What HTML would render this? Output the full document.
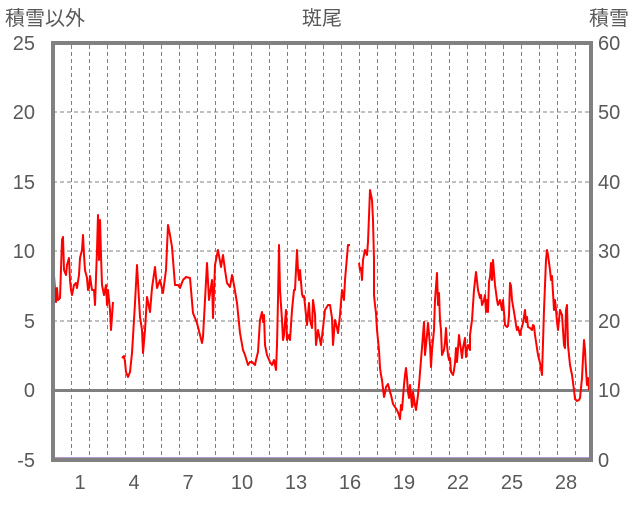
<!DOCTYPE html>
<html><head><meta charset="utf-8"><style>
body{margin:0;background:#fff;}
svg text{font-family:"Liberation Sans","Noto Sans CJK JP",sans-serif;fill:#595959;font-size:20px;}
</style></head><body>
<svg width="636" height="501" viewBox="0 0 636 501">
<g stroke="#808080" stroke-width="1" stroke-dasharray="4,3">
<line x1="53" y1="112" x2="591" y2="112"/><line x1="53" y1="182" x2="591" y2="182"/>
<line x1="53" y1="251" x2="591" y2="251"/><line x1="53" y1="321" x2="591" y2="321"/>
</g>
<g id="v" stroke="#808080" stroke-width="1" stroke-dasharray="4,3"></g>
<line x1="53" y1="390.5" x2="591" y2="390.5" stroke="#808080" stroke-width="3"/>
<polyline fill="none" stroke="#ff0000" stroke-width="2" stroke-linejoin="round" points="53,262 55,290 56,302 57,288 58,300 60,298 62,240 63,237 64,270 66,275 67,265 69,258 70,280 71,290 72,295 74,285 76,283 77,288 79,275 80,258 82,250 83,235 84,255 85,270 87,278 88,290 89,288 90,276 92,290 94,290 95,305 97,250 98,215 99,260 100,220 101,255 102,285 104,295 106,285 107,305 108,290 110,310 111,330 113,302"/>
<polyline fill="none" stroke="#ff0000" stroke-width="2" stroke-linejoin="round" points="122,358 124,356 125,362 126,372 128,377 130,372 132,353 134,320 135,303 137,265 139,300 140,317 142,330 143,353 145,330 147,297 150,312 152,288 155,267 157,288 160,280 163,293 166,270 168,225 170,235 172,247 175,285 178,285 180,288 183,280 186,277 190,278 193,313 197,323 200,335 202,343 203,337 205,300 207,263 209,300 212,280 213,318 215,265 218,250 221,267 223,255 225,270 227,283 230,287 232,275 234,285 237,303 240,333 243,350 245,355 248,365 250,362 252,362 255,365 256,360 258,352 260,320 262,312 263,322 264,315 265,345 267,355 270,362 272,365 274,360 276,370 277,345 278,300 279,245 280,290 282,320 283,340 284,335 286,310 287,340 289,335 290,340 292,310 294,290 295,290 297,250 298,270 299,280 300,270 302,294 303,297 304,296 305,305 307,325 309,303 310,320 312,328 313,300 315,314 316,345 318,330 320,340 321,345 323,328 325,310 328,305 330,305 332,318 333,345 335,320 337,328 338,333 340,315 342,290 344,300 345,280 348,245 350,245"/>
<polyline fill="none" stroke="#ff0000" stroke-width="2" stroke-linejoin="round" points="359,263 360,270 361,268 362,280 363,260 365,250 367,255 368,242 370,190 372,200 373,220 374,260 374,295 375,305 376,313 377,330 379,350 380,368 381,375 382,380 384,397 385,393 386,387 388,384 390,392 391,395 393,404 395,407 397,410 399,415 400,419 401,405 402,410 404,385 405,375 406,368 407,378 408,392 409,398 410,385 412,407 413,392 415,405 416,410 418,395 419,385 421,360 423,335 424,322 425,355 427,335 428,323 430,345 431,367 432,350 434,330 435,300 437,273 438,305 439,293 440,320 441,330 442,355 444,350 445,342 446,328 447,345 448,355 449,360 450,358 451,372 453,375 454,370 455,363 456,348 457,362 459,335 460,343 461,350 462,358 463,348 465,338 466,357 467,350 468,345 469,347 470,350 470,335 472,320 474,290 476,272 478,290 480,298 481,295 482,305 484,300 485,295 486,312 487,300 488,312 489,282 490,277 491,263 492,280 493,260 495,285 497,300 498,305 500,300 502,310 503,300 505,325 507,327 508,326 509,315 510,283 511,286 512,300 513,306 515,318 516,325 517,330 518,327 520,335 521,330 523,323 525,310 526,322 527,317 528,327 530,328 532,330 533,325 534,326 535,335 538,355 540,363 542,375 544,310 546,260 547,250 548,255 550,270 551,280 552,276 553,293 554,310 555,300 556,310 557,322 558,330 560,310 562,315 563,330 564,345 565,348 566,310 567,305 568,345 570,365 572,375 574,390 575,399 577,401 579,400 580,398 582,378 583,358 584,340 585,350 586,370 587,385 588,378 589,390"/>
<line x1="54" y1="459" x2="590" y2="459" stroke="#7030a0" stroke-width="3"/>
<rect x="53" y="43" width="538" height="417" fill="none" stroke="#808080" stroke-width="4"/>
<text x="5" y="25">積雪以外</text>
<text x="302" y="25">斑尾</text>
<text x="589" y="25">積雪</text>
<g text-anchor="end">
<text x="35" y="50">25</text><text x="35" y="119">20</text><text x="35" y="189">15</text>
<text x="35" y="258">10</text><text x="35" y="328">5</text><text x="35" y="397">0</text><text x="35" y="467">-5</text>
</g>
<g>
<text x="598" y="50">60</text><text x="598" y="119">50</text><text x="598" y="189">40</text>
<text x="598" y="258">30</text><text x="598" y="328">20</text><text x="598" y="397">10</text><text x="598" y="467">0</text>
</g>
<g text-anchor="middle">
<text x="80" y="489">1</text><text x="134" y="489">4</text><text x="188" y="489">7</text>
<text x="242" y="489">10</text><text x="296" y="489">13</text><text x="350" y="489">16</text>
<text x="404" y="489">19</text><text x="458" y="489">22</text><text x="512" y="489">25</text><text x="566" y="489">28</text>
</g>
</svg>
<script>
var g=document.getElementById('v');
for(var k=0;k<29;k++){var x=71.5+18*k;if(x>589)break;var l=document.createElementNS('http://www.w3.org/2000/svg','line');l.setAttribute('x1',x);l.setAttribute('x2',x);l.setAttribute('y1',45);l.setAttribute('y2',458);g.appendChild(l);}
</script>
</body></html>
